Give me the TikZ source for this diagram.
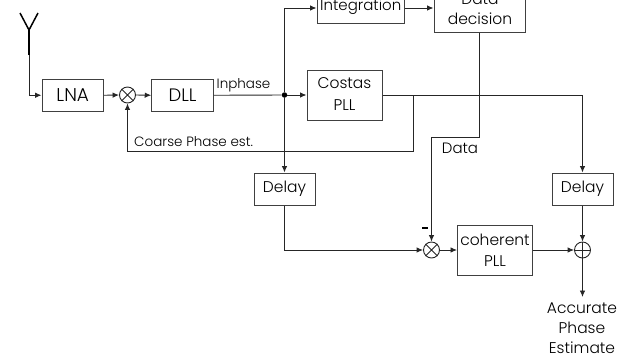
\documentclass[tikz,border=0pt]{standalone}
\usepackage{fontspec}
\setmainfont{Poppins Light}
\usetikzlibrary{arrows.meta,calc}
\tikzset{
  x=1pt,y=-1pt,
  wire/.style={line width=0.9pt,draw=black!85},
  arr/.style={wire,-{Latex[length=6.5pt,width=5.5pt]}},
  blockbox/.style={draw=black!75,line width=1pt,minimum width=#1,inner sep=0pt,align=center,font=\fontsize{15.5}{21}\selectfont,text=black},
  lab/.style={inner sep=0pt,font=\fontsize{13.5}{20.5}\selectfont,text=black,align=center},
  summer/.style={circle,draw=black!85,line width=0.9pt,minimum size=16pt,inner sep=0pt},
  jdot/.style={circle,fill=black,minimum size=5.5pt,inner sep=0pt}
}
\newcommand{\nudge}[2]{\raisebox{#1}{#2}}
\begin{document}
\begin{tikzpicture}
\useasboundingbox (0,0) rectangle (618,360);
\clip (0,0) rectangle (618,360);
% boxes
\node[blockbox=61.5pt,minimum height=31.5pt,font=\fontsize{18.5}{21}\selectfont] (lna) at (72.75,95.25) {\nudge{-1pt}{LNA}};
\node[blockbox=61.5pt,minimum height=31.5pt,font=\fontsize{18}{21}\selectfont] (dll) at (182.5,95.25) {\nudge{-1pt}{DLL}};
\node[blockbox=75pt,minimum height=50pt] (costas) at (344.5,95) {\nudge{2pt}{Costas}\\\nudge{1pt}{PLL}};
\node[blockbox=87.5pt,minimum height=47.5pt] (integ) at (360.75,-0.25) {};
\node[lab,font=\fontsize{15}{20}\selectfont] at (360.75,7) {Integration};
\node[blockbox=91pt,minimum height=52pt] (dec) at (479.5,6) {};
\node[lab,font=\fontsize{15.5}{19.5}\selectfont] at (480,9) {Data\\decision};
\node[blockbox=61pt,minimum height=32pt] (d1) at (284.5,189) {\nudge{-1.5pt}{Delay}};
\node[blockbox=61pt,minimum height=32pt] (d2) at (582.5,189) {\nudge{-1.5pt}{Delay}};
\node[blockbox=75pt,minimum height=50pt] (coh) at (495,250) {\nudge{-2pt}{coherent}\\\nudge{-2pt}{PLL}};
% summers
\node[summer] (m1) at (127.5,95) {};
\draw[wire] (m1.north west) -- (m1.south east) (m1.north east) -- (m1.south west);
\node[summer] (m2) at (431.5,250) {};
\draw[wire] (m2.north west) -- (m2.south east) (m2.north east) -- (m2.south west);
\node[summer] (add) at (582.5,250) {};
\draw[wire] (add.north) -- (add.south) (add.west) -- (add.east);
% junction and bends
\node[jdot] (j) at (284.5,95) {};
\coordinate (atip) at (29,55);
\coordinate (atop) at (29,30);
\coordinate (al) at (20,13);
\coordinate (ar) at (38,13);
\coordinate (cpl) at (413,95);
\coordinate (cpb) at (413,151);
\coordinate (dbend) at (479.5,137);
\coordinate (dbend2) at (431.5,137);
\coordinate (out) at (582.5,297);
% antenna
\draw[line width=2pt,black] (atip) -- (atop);
\draw[line width=1.5pt,black] (al) -- (atop) -- (ar);
% connectors
\draw[arr] (atip) |- (lna.west);
\draw[arr] (lna.east) -- (m1.west);
\draw[arr] (m1.east) -- (dll.west);
\draw[wire] (dll.east) -- (j);
\draw[arr] (j) -- (costas.west);
\draw[arr] (j) -- (d1.north);
\draw[arr] (j) |- (integ.west |- 0,8);
\draw[arr] (integ.east |- 0,8) -- (dec.west |- 0,8);
\draw[wire] (costas.east) -- (cpl);
\draw[arr] (cpl) -- (cpb) -| (m1.south);
\draw[arr] (cpl) -| (d2.north);
\draw[arr] (dec.south) -- (dbend) -- (dbend2) -- (m2.north);
\draw[arr] (d1.south) |- (m2.west);
\draw[arr] (m2.east) -- (coh.west);
\draw[arr] (coh.east) -- (add.west);
\draw[arr] (d2.south) -- (add.north);
\draw[arr] (add.south) -- (out);
% labels
\node[lab,anchor=west] at (216.5,85.5) {Inphase};
\node[lab,anchor=west] at (134,141.5) {Coarse Phase est.};
\node[lab,font=\fontsize{15}{20}\selectfont] at (460,148.5) {Data};
\node[inner sep=0pt,font=\fontsize{15}{15}\selectfont] at (425,228) {\rule{6pt}{1.8pt}};
\node[lab,anchor=north,font=\fontsize{15.5}{20}\selectfont] at (582,303) {Accurate\\Phase\\Estimate};
\end{tikzpicture}
\end{document}
